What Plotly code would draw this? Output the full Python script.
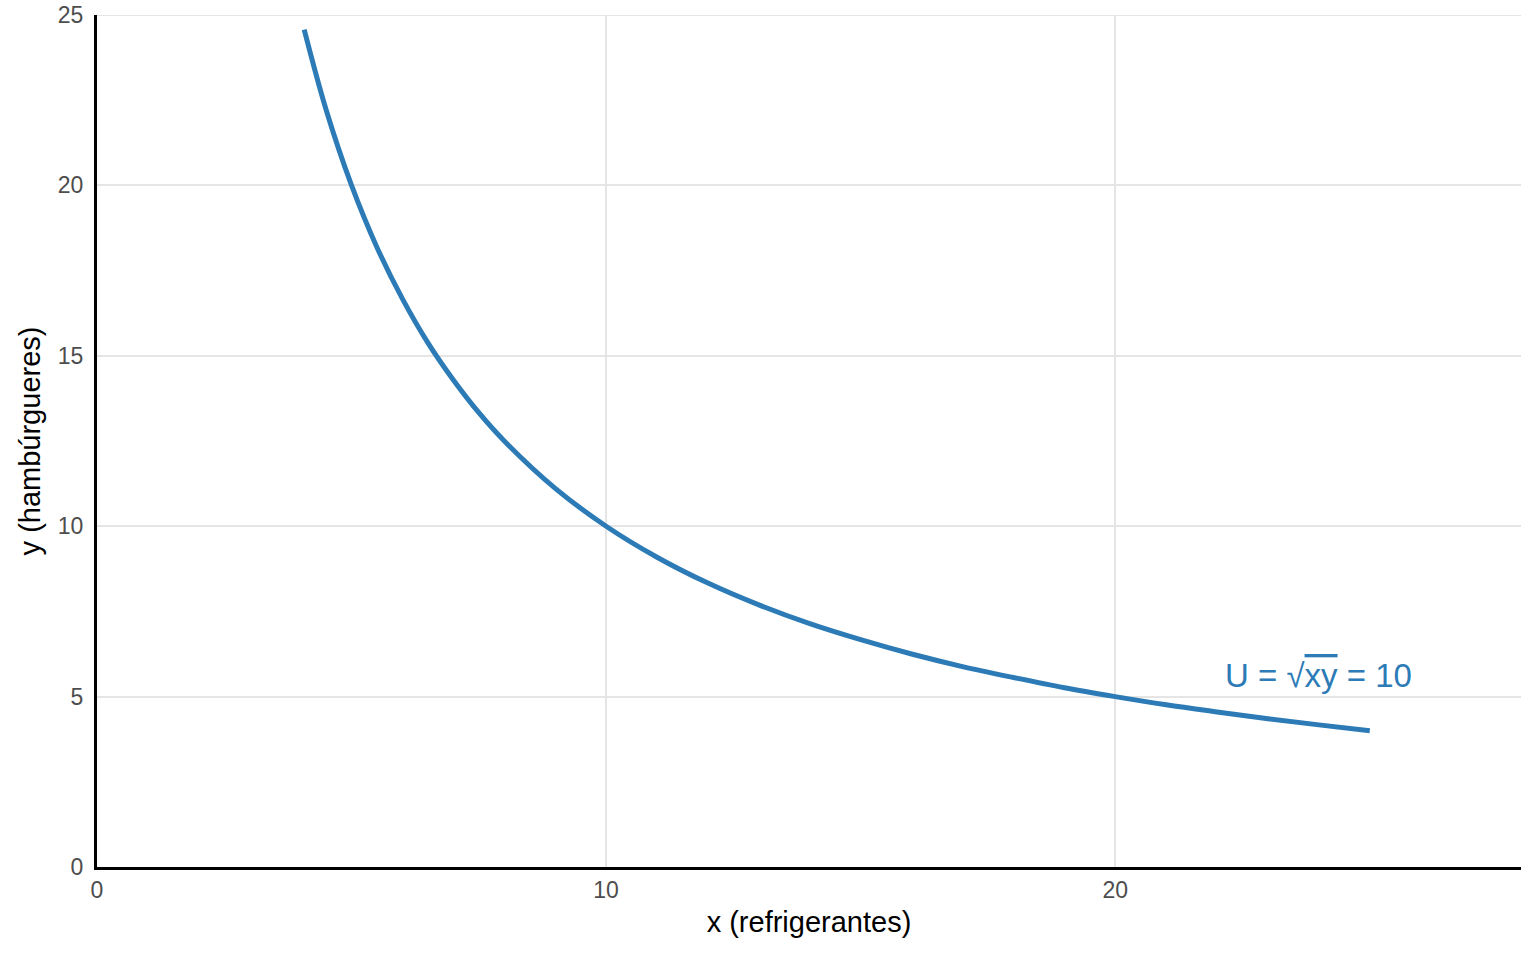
import plotly.graph_objects as go

# Points (x: refrigerantes, y: hambúrgueres)
x_vals = [4.07, 4.5, 5, 5.5, 6, 6.5, 7, 7.5, 8, 9, 10, 11, 12, 13, 14, 15, 16, 17, 18, 19, 20, 21, 22, 23, 24, 25]
y_vals = [24.57, 22.22, 20.0, 18.18, 16.67, 15.38, 14.29, 13.33, 12.5, 11.11, 10.0, 9.09, 8.33, 7.69, 7.14, 6.67, 6.25, 5.88, 5.56, 5.26, 5.0, 4.76, 4.55, 4.35, 4.17, 4.0]

x_ticks = [0, 10, 20]
y_ticks = [0, 5, 10, 15, 20, 25]
y_max = 25

label_x, label_y = 24, 5.63
label_text = "U = √<span style='text-decoration:overline'>xy</span> = 10"

COLOR = "#2c7bb6"
FONT = "Liberation Sans, Arial, Helvetica, sans-serif"
GRID = "#e5e5e5"

fig = go.Figure()
fig.add_trace(go.Scatter(x=x_vals, y=y_vals, mode="lines",
                         line=dict(color=COLOR, width=5, shape="spline"),
                         showlegend=False, hoverinfo="skip"))

# top gridline (plotly drops gridlines lying on the range end)
fig.add_shape(type="line", xref="paper", yref="y", x0=0, x1=1, y0=y_max, y1=y_max,
              line=dict(color=GRID, width=2), layer="below")

fig.add_annotation(x=label_x, y=label_y, text=label_text, showarrow=False,
                   font=dict(family=FONT, size=33, color=COLOR),
                   xanchor="center", yanchor="middle")

fig.update_layout(
    width=1536, height=960,
    margin=dict(l=97, r=15, t=15, b=93),
    paper_bgcolor="white", plot_bgcolor="white",
    font=dict(family=FONT),
)
fig.update_xaxes(range=[0, 27.97], tickvals=x_ticks, ticks="", showgrid=True,
                 gridcolor=GRID, gridwidth=2, zeroline=False,
                 showline=True, linecolor="black", linewidth=3, automargin=False,
                 ticklabeloverflow="allow",
                 tickfont=dict(size=23, color="#4d4d4d"),
                 title=dict(text="x (refrigerantes)", font=dict(size=29, color="black"), standoff=11))
fig.update_yaxes(range=[0, y_max], tickvals=y_ticks, ticks="", showgrid=True,
                 gridcolor=GRID, gridwidth=2, zeroline=False,
                 showline=True, linecolor="black", linewidth=3, automargin=False,
                 ticklabeloverflow="allow", ticklabelstandoff=6,
                 tickfont=dict(size=23, color="#4d4d4d"),
                 title=dict(text="y (hambúrgueres)", font=dict(size=29, color="black"), standoff=9))

fig.write_html("out.html", config={"displayModeBar": False},
               post_script="document.body.style.margin='0';document.body.style.overflow='hidden';")
